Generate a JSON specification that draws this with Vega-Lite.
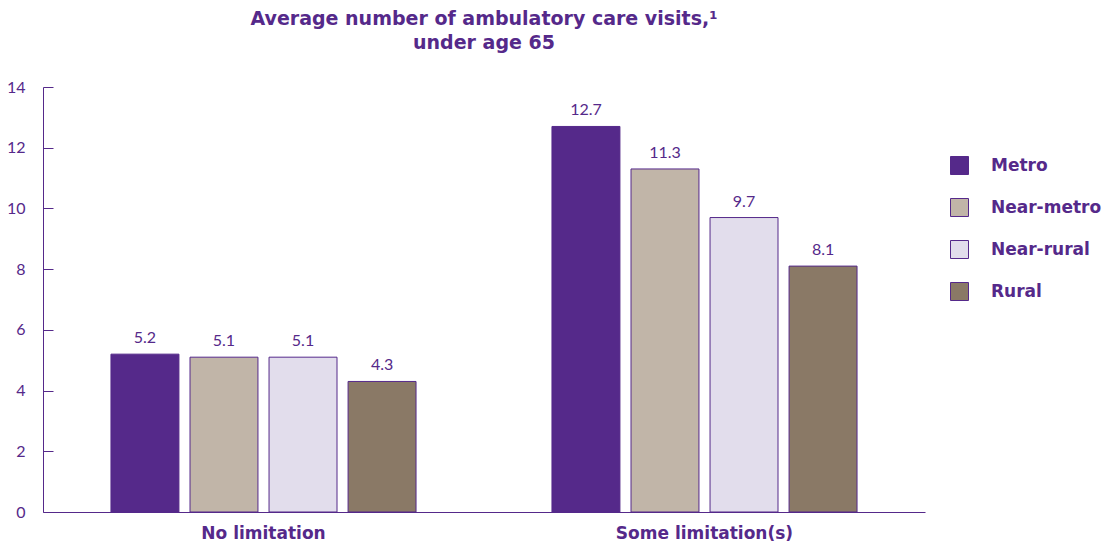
{
  "$schema": "https://vega.github.io/schema/vega-lite/v6.json",
  "width": 882,
  "height": 425,
  "autosize": {"type": "none"},
  "padding": {"left": 43, "top": 87, "right": 187, "bottom": 35},
  "background": "white",
  "config": {
    "font": "Lato",
    "view": {"stroke": null}
  },
  "title": {
    "text": ["Average number of ambulatory care visits,¹", "under age 65"],
    "fontSize": 19,
    "fontWeight": "bold",
    "color": "#55298A",
    "font": "DejaVu Sans",
    "anchor": "middle",
    "frame": "group",
    "lineHeight": 24,
    "offset": 26
  },
  "data": {
    "values": [
      {"group": "No limitation", "area": "Metro", "value": 5.2},
      {"group": "No limitation", "area": "Near-metro", "value": 5.1},
      {"group": "No limitation", "area": "Near-rural", "value": 5.1},
      {"group": "No limitation", "area": "Rural", "value": 4.3},
      {"group": "Some limitation(s)", "area": "Metro", "value": 12.7},
      {"group": "Some limitation(s)", "area": "Near-metro", "value": 11.3},
      {"group": "Some limitation(s)", "area": "Near-rural", "value": 9.7},
      {"group": "Some limitation(s)", "area": "Rural", "value": 8.1}
    ]
  },
  "encoding": {
    "x": {
      "field": "group",
      "type": "nominal",
      "scale": {"paddingInner": 0, "paddingOuter": 0},
      "axis": {
        "title": null,
        "labelAngle": 0,
        "labelFont": "DejaVu Sans",
        "labelFontSize": 17,
        "labelFontWeight": "bold",
        "labelColor": "#55298A",
        "labelPadding": 13,
        "ticks": false,
        "domainColor": "#55298A",
        "domainWidth": 1
      }
    },
    "xOffset": {
      "field": "area",
      "type": "nominal",
      "sort": ["Metro", "Near-metro", "Near-rural", "Rural"],
      "scale": {"paddingInner": 0.14, "paddingOuter": 0.86}
    },
    "y": {
      "field": "value",
      "type": "quantitative",
      "scale": {"domain": [0, 14]},
      "axis": {
        "title": null,
        "values": [0, 2, 4, 6, 8, 10, 12, 14],
        "grid": false,
        "tickSize": -10,
        "tickColor": "#55298A",
        "labelPadding": 28,
        "labelFontSize": 16,
        "labelColor": "#55298A",
        "domainColor": "#55298A",
        "domainWidth": 1
      }
    }
  },
  "layer": [
    {
      "mark": {"type": "bar", "stroke": "#55298A", "strokeWidth": 1},
      "encoding": {
        "color": {
          "field": "area",
          "type": "nominal",
          "sort": ["Metro", "Near-metro", "Near-rural", "Rural"],
          "scale": {
            "domain": ["Metro", "Near-metro", "Near-rural", "Rural"],
            "range": ["#55298A", "#C1B5A8", "#E2DDEC", "#8A7966"]
          },
          "legend": {
            "title": null,
            "orient": "none",
            "legendX": 907,
            "legendY": 69,
            "padding": 0,
            "symbolType": "square",
            "symbolSize": 324,
            "symbolStrokeColor": "#55298A",
            "symbolStrokeWidth": 1,
            "labelFontSize": 17,
            "labelFontWeight": "bold",
            "labelColor": "#55298A",
            "labelFont": "DejaVu Sans",
            "labelOffset": 22,
            "rowPadding": 19
          }
        }
      }
    },
    {
      "mark": {"type": "text", "baseline": "bottom", "dy": -8, "fontSize": 16, "color": "#55298A"},
      "encoding": {
        "text": {"field": "value", "type": "quantitative", "format": ".1f"}
      }
    }
  ]
}
